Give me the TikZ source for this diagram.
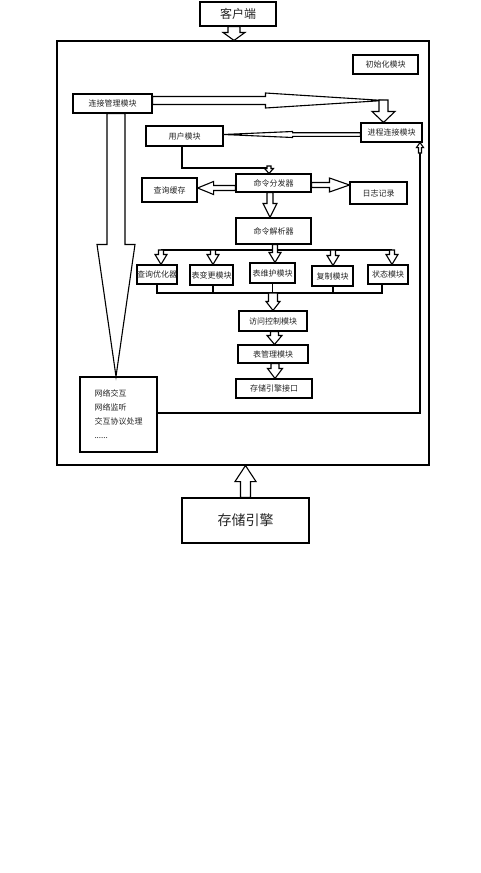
\documentclass[tikz,border=0pt]{standalone}
\usepackage{fontspec}
\setmainfont{Noto Sans CJK SC}
\usetikzlibrary{calc}
\tikzset{
  x=1pt, y=-1pt,
  box/.style={draw=black, line width=1.1pt, inner sep=0pt, fill=white, font=\fontsize{8}{10}\selectfont, text=black!85},
  ln/.style={draw=black, line width=1.1pt},
  barrow/.style={draw=black, line width=1.1pt, fill=white, line join=miter},
}
% hollow block arrow: #1 start, #2 tip, #3 shaft half width, #4 head half width, #5 head length
\newcommand{\barr}[5]{%
  \coordinate (baH) at ($(#2)!#5!(#1)$);
  \draw[barrow] ($(#1)!#3!90:(#2)$) -- ($(baH)!#3!-90:(#1)$) -- ($(baH)!#4!-90:(#1)$) -- (#2)
    -- ($(baH)!#4!90:(#1)$) -- ($(baH)!#3!90:(#1)$) -- ($(#1)!#3!-90:(#2)$) -- cycle;}
\begin{document}
\begin{tikzpicture}
\useasboundingbox[fill=white] (0,0) rectangle (480,873);

% frame and top/bottom boxes
\node[box, minimum width=372, minimum height=424] (frame) at (243,253) {};
\node[box, minimum width=76, minimum height=24, font=\fontsize{12}{14}\selectfont] (kehu) at (238,14) {客户端};
\node[box, minimum width=127, minimum height=45, font=\fontsize{14}{16}\selectfont] (storage) at (245.5,520.5) {存储引擎};

% inner boxes
\node[box, minimum width=65, minimum height=19] (init) at (385.5,64.5) {初始化模块};
\node[box, minimum width=79, minimum height=19] (conn) at (112.5,103.5) {连接管理模块};
\node[box, minimum width=61, minimum height=19] (proc) at (391.5,132.5) {进程连接模块};
\node[box, minimum width=77, minimum height=20] (user) at (184.5,136) {用户模块};
\node[box, minimum width=75, minimum height=18] (disp) at (273.5,183) {命令分发器};
\node[box, minimum width=55, minimum height=24] (cache) at (169.5,190) {查询缓存};
\node[box, minimum width=57, minimum height=22] (log) at (378.5,193) {日志记录};
\node[box, minimum width=75, minimum height=26] (parser) at (273.5,231) {命令解析器};
\node[box, minimum width=40, minimum height=19] (m1) at (157,274.5) {查询优化器};
\node[box, minimum width=43, minimum height=20] (m2) at (211.5,275) {表变更模块};
\node[box, minimum width=45, minimum height=20] (m3) at (272.5,273) {表维护模块};
\node[box, minimum width=41, minimum height=20] (m4) at (332.5,276) {复制模块};
\node[box, minimum width=40, minimum height=19] (m5) at (388,274.5) {状态模块};
\node[box, minimum width=68, minimum height=20] (access) at (273,321) {访问控制模块};
\node[box, minimum width=70, minimum height=18] (tmgr) at (273,354) {表管理模块};
\node[box, minimum width=76, minimum height=19] (seif) at (274,388.5) {存储引擎接口};
\node[box, minimum width=77, minimum height=75, align=left, font=\fontsize{8}{14}\selectfont] (net) at (118.5,414.5) {网络交互\\网络监听\\交互协议处理\\......};

% client -> frame
\coordinate (k1) at ([xshift=-4pt]kehu.south);
\coordinate (k2) at (k1 |- frame.north);
\barr{k1}{k2}{6pt}{11pt}{8pt}

% storage -> frame
\coordinate (s1) at (storage.north);
\coordinate (s2) at (s1 |- frame.south);
\barr{s1}{s2}{5pt}{10.5pt}{16pt}

% conn -> proc (tapered) and down arrow into proc
\coordinate (pd) at ([xshift=-8pt]proc.north);
\coordinate (c1) at (conn.east |- 0,100.5);
\coordinate (c2) at (pd |- 0,100.5);
\barr{c1}{c2}{4pt}{7.5pt}{118pt}
\coordinate (pd0) at (pd |- 0,100);
\barr{pd0}{pd}{4.5pt}{11.5pt}{11pt}

% proc -> user (thin tapered)
\coordinate (p1) at (proc.west |- 0,134.5);
\coordinate (u1) at (user.east |- 0,134.5);
\barr{p1}{u1}{1.8pt}{3pt}{69pt}

% user -> dispatcher
\coordinate (ub) at ([xshift=-2.5pt]user.south);
\coordinate (dt) at ([xshift=-4.5pt]disp.north);
\coordinate (ucorner) at (ub |- 0,168);
\coordinate (dcorner) at (dt |- 0,168);
\draw[ln] (ub) -- (ucorner) -- (dcorner);
\coordinate (da) at (dt |- 0,166);
\barr{da}{dt}{2pt}{4.5pt}{5pt}

% dispatcher -> cache / log / parser
\coordinate (dw) at (disp.west |- 0,188);
\coordinate (ce) at (cache.east |- 0,188);
\barr{dw}{ce}{2.5pt}{6.5pt}{16pt}
\coordinate (de) at (disp.east |- 0,185);
\coordinate (lw) at (log.west |- 0,185);
\barr{de}{lw}{2.5pt}{7pt}{20pt}
\coordinate (ds) at ([xshift=-3.5pt]disp.south);
\coordinate (pn) at (ds |- parser.north);
\barr{ds}{pn}{3pt}{7pt}{14pt}

% parser -> modules bus
\coordinate (b1) at (161,250);
\coordinate (b2) at (213,250);
\coordinate (b4) at (333,250);
\coordinate (b5) at (392,250);
\draw[ln] (b1) -- (b5);
\barr{b1}{b1 |- m1.north}{2.5pt}{6pt}{10pt}
\barr{b2}{b2 |- m2.north}{2.5pt}{6pt}{10pt}
\barr{b4}{b4 |- m4.north}{2.5pt}{6pt}{10pt}
\barr{b5}{b5 |- m5.north}{2.5pt}{6pt}{10pt}
\coordinate (ps) at ([xshift=1.5pt]parser.south);
\coordinate (m3n) at (ps |- m3.north);
\barr{ps}{m3n}{2.5pt}{6pt}{10pt}

% modules -> lower bus
\coordinate (l1) at (157,293);
\coordinate (l5) at (382,293);
\draw[ln] (l1 |- m1.south) -- (l1) -- (l5) -- (l5 |- m5.south);
\draw[ln] (m2.south -| 213,0) -- (213,293);
\draw[ln] (m3.south) -- (m3.south |- l1);
\draw[ln] (m4.south -| 333,0) -- (333,293);

% lower bus -> access -> table mgr -> storage iface
\coordinate (a0) at (273,293);
\barr{a0}{access.north}{4.5pt}{7pt}{9pt}
\coordinate (a1) at ([xshift=1.5pt]access.south);
\coordinate (t1) at (a1 |- tmgr.north);
\barr{a1}{t1}{4pt}{7.5pt}{9pt}
\coordinate (t2) at ([xshift=2pt]tmgr.south);
\coordinate (s3) at (t2 |- seif.north);
\barr{t2}{s3}{4pt}{7.5pt}{10pt}

% net -> proc feedback line
\coordinate (ne) at (net.east |- 0,413);
\coordinate (rc) at (420,413);
\coordinate (rt) at (420,153);
\draw[ln] (ne) -- (rc) -- (rt);
\coordinate (pb) at (rt |- proc.south);
\barr{rt}{pb}{1.5pt}{3.5pt}{5pt}

% conn -> net big tapered arrow
\coordinate (cs) at ([xshift=3.5pt]conn.south);
\coordinate (nn) at (cs |- net.north);
\barr{cs}{nn}{9pt}{19pt}{132pt}
\end{tikzpicture}
\end{document}
